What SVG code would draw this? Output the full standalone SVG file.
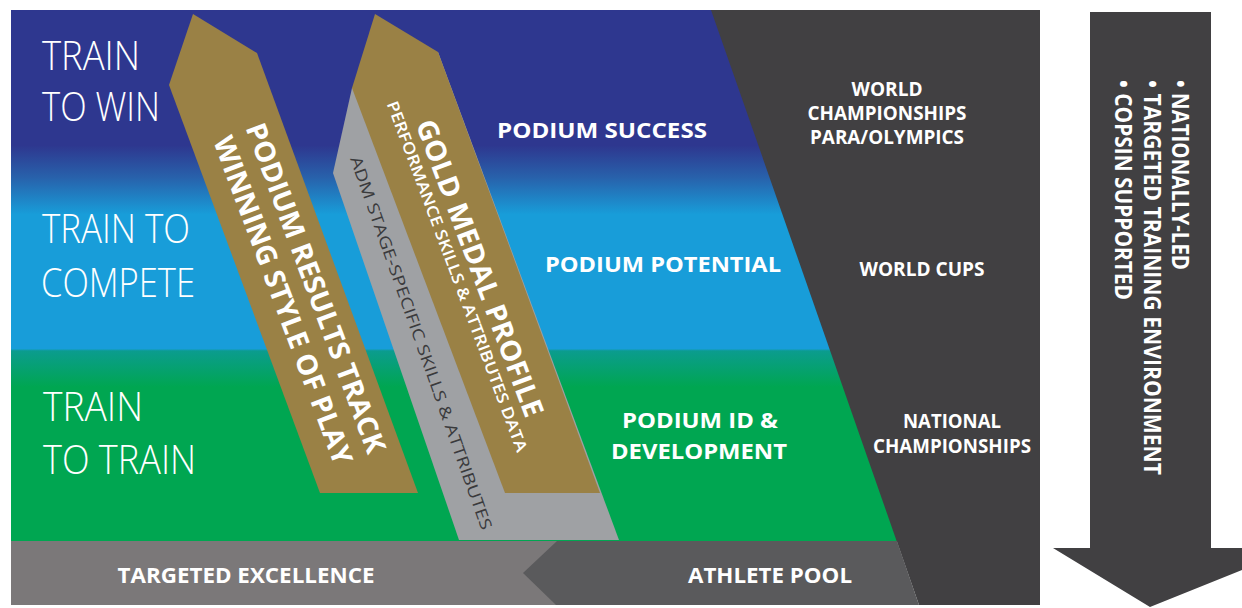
<svg xmlns="http://www.w3.org/2000/svg" width="1242" height="608" viewBox="0 0 1242 608">
<defs>
<linearGradient id="bg" gradientUnits="userSpaceOnUse" x1="0" y1="10" x2="0" y2="541">
<stop offset="0" stop-color="#2e378f"/>
<stop offset="0.255" stop-color="#2e378f"/>
<stop offset="0.315" stop-color="#2861ab"/>
<stop offset="0.385" stop-color="#189dd9"/>
<stop offset="0.638" stop-color="#189dd9"/>
<stop offset="0.642" stop-color="#0b9c8e"/>
<stop offset="0.71" stop-color="#00a651"/>
<stop offset="1" stop-color="#00a651"/>
</linearGradient>
<style>
.lvl{font-family:"Open Sans","Liberation Sans",sans-serif;font-weight:300;font-size:40px;fill:#ffffff}
.lb{font-family:"Open Sans","Liberation Sans",sans-serif;font-weight:700;font-size:22px;fill:#ffffff}
.ev{font-family:"Open Sans","Liberation Sans",sans-serif;font-weight:700;font-size:19px;fill:#ffffff}
.gold{fill:#9a8145}
.big{font-family:"Open Sans","Liberation Sans",sans-serif;font-weight:700;font-size:28px;fill:#ffffff}
.sm{font-family:"Open Sans","Liberation Sans",sans-serif;font-weight:600;font-size:16px;fill:#ffffff}
.adm{font-family:"Open Sans","Liberation Sans",sans-serif;font-weight:400;font-size:16px;fill:#3a3a3c}
.dark{fill:#414042}
.bul{font-family:"Open Sans","Liberation Sans",sans-serif;font-weight:700;font-size:23px;fill:#ffffff}
</style>
</defs>

<g id="background">
<rect x="11" y="10" width="900" height="531" fill="url(#bg)"/>
</g>

<g id="events-panel">
<polygon class="dark" points="711,10 1040,10 1040,605 919,605"/>
<text class="ev" text-anchor="middle"><tspan x="887" y="96" textLength="71" lengthAdjust="spacingAndGlyphs">WORLD</tspan><tspan x="887" y="120" textLength="159" lengthAdjust="spacingAndGlyphs">CHAMPIONSHIPS</tspan><tspan x="887" y="144" textLength="154" lengthAdjust="spacingAndGlyphs">PARA/OLYMPICS</tspan></text>
<text class="ev" x="922" y="276" text-anchor="middle" textLength="125" lengthAdjust="spacingAndGlyphs">WORLD CUPS</text>
<text class="ev" text-anchor="middle"><tspan x="952" y="428" textLength="98" lengthAdjust="spacingAndGlyphs">NATIONAL</tspan><tspan x="952" y="453" textLength="158" lengthAdjust="spacingAndGlyphs">CHAMPIONSHIPS</tspan></text>
</g>

<g id="levels">
<text class="lvl" x="42" y="70" textLength="98" lengthAdjust="spacingAndGlyphs">TRAIN</text>
<text class="lvl" x="42" y="121" textLength="118" lengthAdjust="spacingAndGlyphs">TO WIN</text>
<text class="lvl" x="42" y="243" textLength="148" lengthAdjust="spacingAndGlyphs">TRAIN TO</text>
<text class="lvl" x="41" y="297" textLength="154" lengthAdjust="spacingAndGlyphs">COMPETE</text>
<text class="lvl" x="43" y="421" textLength="100" lengthAdjust="spacingAndGlyphs">TRAIN</text>
<text class="lvl" x="43" y="474" textLength="153" lengthAdjust="spacingAndGlyphs">TO TRAIN</text>
</g>

<g id="podium-labels">
<text class="lb" x="602" y="138" text-anchor="middle" textLength="210" lengthAdjust="spacingAndGlyphs">PODIUM SUCCESS</text>
<text class="lb" x="663" y="272" text-anchor="middle" textLength="236" lengthAdjust="spacingAndGlyphs">PODIUM POTENTIAL</text>
<text class="lb" x="700" y="428" text-anchor="middle" textLength="156" lengthAdjust="spacingAndGlyphs">PODIUM ID &amp;</text>
<text class="lb" x="699" y="459" text-anchor="middle" textLength="176" lengthAdjust="spacingAndGlyphs">DEVELOPMENT</text>
</g>

<g id="adm-strip">
<polygon fill="#9fa1a4" points="352,88 333,173 459,540 619,540 438,52"/>
<g transform="translate(421,343) rotate(70.5)">
<text class="adm" x="0" y="5.5" text-anchor="middle" textLength="395" lengthAdjust="spacingAndGlyphs">ADM STAGE-SPECIFIC SKILLS &amp; ATTRIBUTES</text>
</g>
</g>

<g id="podium-results-arrow">
<polygon class="gold" points="193,14 257,53 418,493 320,493 169,85"/>
<g transform="translate(316,288) rotate(69.5)">
<text class="big" x="0" y="10" text-anchor="middle" textLength="350" lengthAdjust="spacingAndGlyphs">PODIUM RESULTS TRACK</text>
<text class="big" x="0" y="45" text-anchor="middle" textLength="348" lengthAdjust="spacingAndGlyphs">WINNING STYLE OF PLAY</text>
</g>
</g>

<g id="gold-medal-arrow">
<polygon class="gold" points="375,14 438,52 600,493 505,493 352,88"/>
<g transform="translate(480,268) rotate(69.5)">
<text class="big" x="0" y="10" text-anchor="middle" textLength="315" lengthAdjust="spacingAndGlyphs">GOLD MEDAL PROFILE</text>
<text class="sm" x="0" y="30" text-anchor="middle" textLength="373" lengthAdjust="spacingAndGlyphs">PERFORMANCE SKILLS &amp; ATTRIBUTES DATA</text>
</g>
</g>

<g id="targeted-excellence">
<rect x="11" y="541" width="560" height="64" fill="#7b7879"/>
<text class="lb" x="246" y="583" text-anchor="middle" textLength="257" lengthAdjust="spacingAndGlyphs">TARGETED EXCELLENCE</text>
</g>

<g id="athlete-pool">
<polygon fill="#5a5a5c" points="557,541 897,541 919,605 556,605 523,573"/>
<text class="lb" x="770" y="583" text-anchor="middle" textLength="164" lengthAdjust="spacingAndGlyphs">ATHLETE POOL</text>
</g>

<g id="environment-arrow">
<polygon class="dark" points="1090,12 1211,12 1211,548 1242,548 1242,570 1150,607 1053,548 1090,548"/>
<text class="bul" transform="translate(1172,80) rotate(90)" x="0" y="0" textLength="190" lengthAdjust="spacingAndGlyphs">• NATIONALLY-LED</text>
<text class="bul" transform="translate(1144,80) rotate(90)" x="0" y="0" textLength="395" lengthAdjust="spacingAndGlyphs">• TARGETED TRAINING ENVIRONMENT</text>
<text class="bul" transform="translate(1115,80) rotate(90)" x="0" y="0" textLength="220" lengthAdjust="spacingAndGlyphs">• COPSIN SUPPORTED</text>
</g>
</svg>
